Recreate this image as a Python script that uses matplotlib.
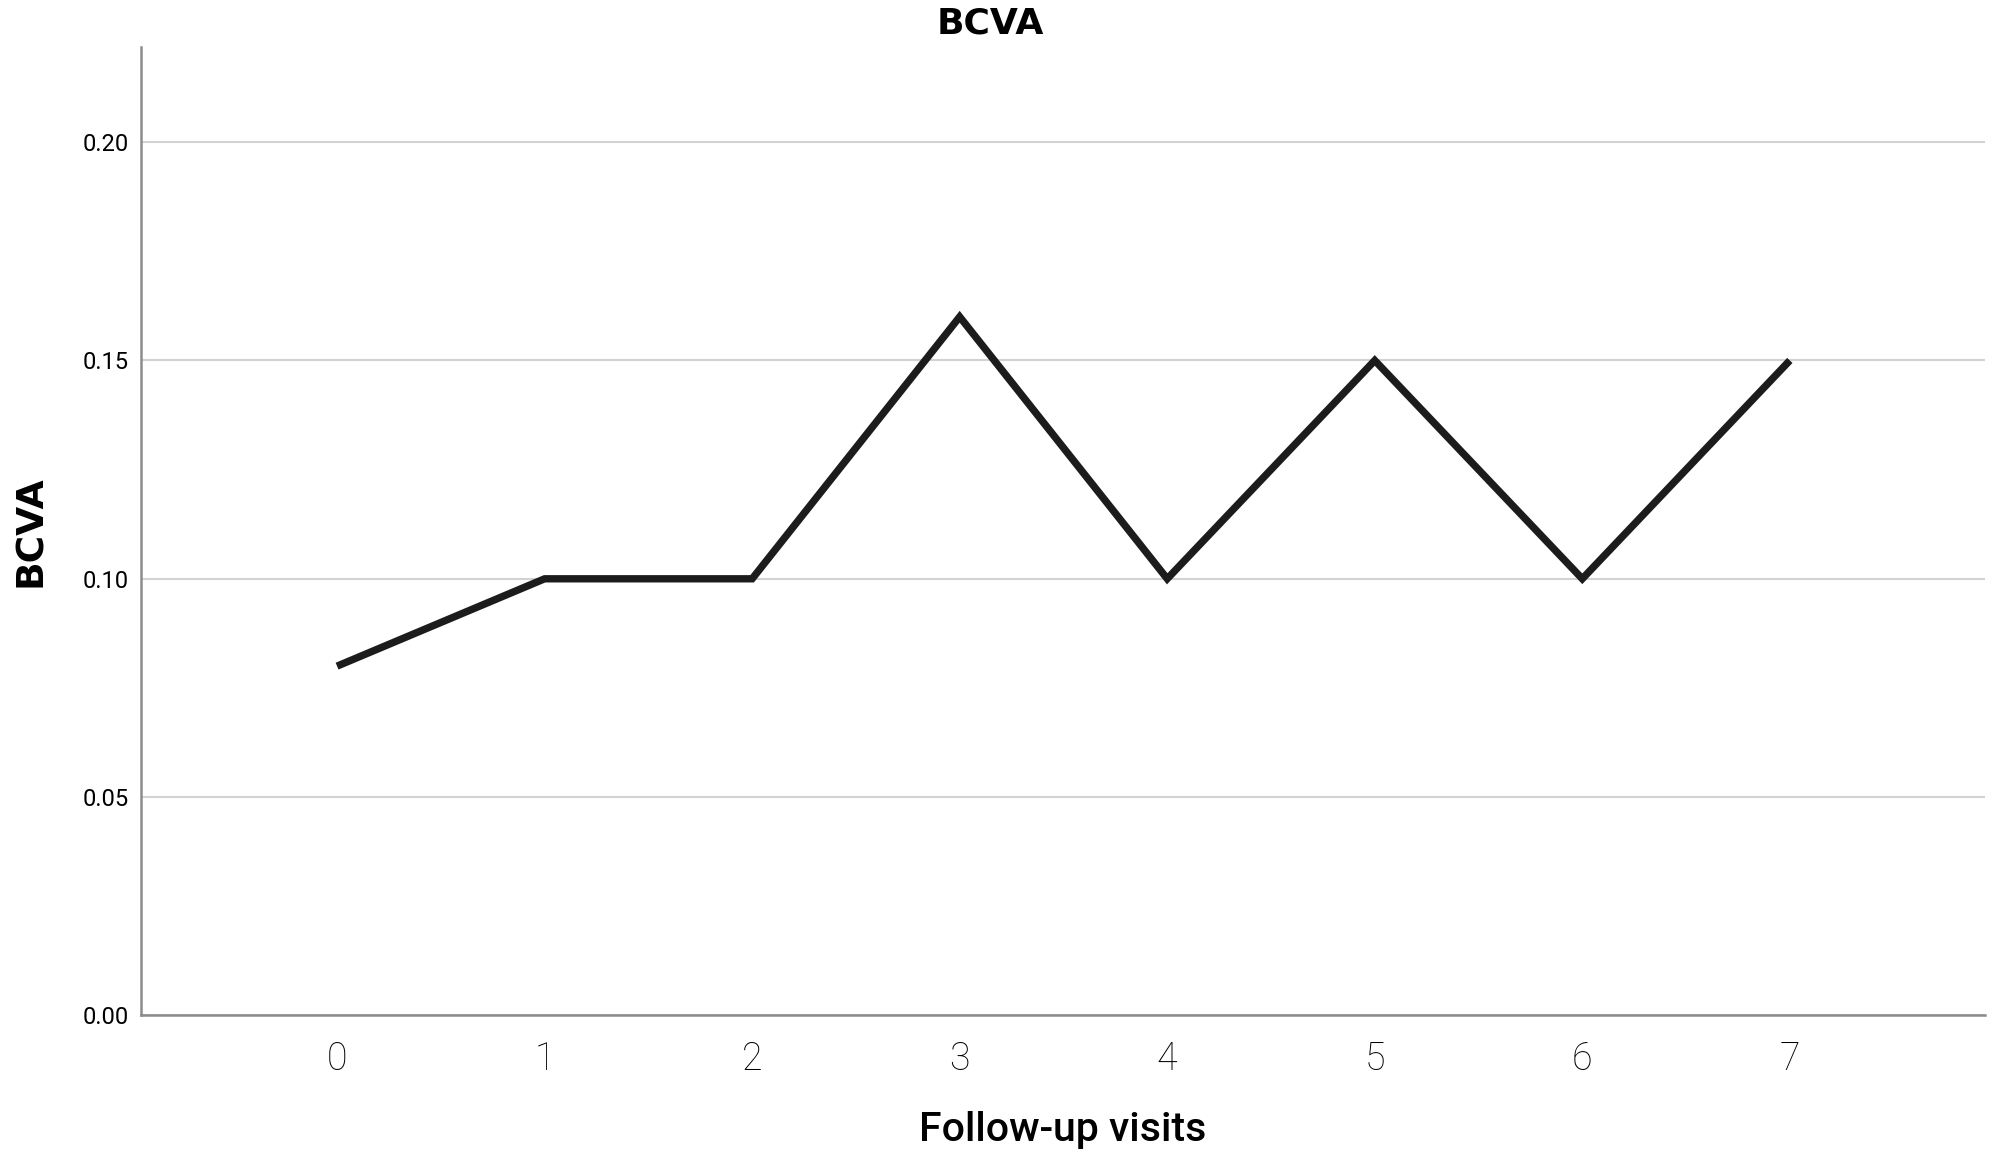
import matplotlib
matplotlib.use('Agg')
import matplotlib.pyplot as plt

# values
visits = [0, 1, 2, 3, 4, 5, 6, 7]
bcva = [0.08, 0.10, 0.10, 0.16, 0.10, 0.15, 0.10, 0.15]
y_ticks = [0.00, 0.05, 0.10, 0.15, 0.20]

GRID_COLOR = '#d2d2d2'
SPINE_COLOR = '#8c8c8c'
LINE_COLOR = '#1c1c1c'

fig = plt.figure(figsize=(20.08, 11.55), dpi=100)
ax = fig.add_axes([0.0702, 0.1208, 0.9183, 0.8382])

ax.plot(visits, bcva, color=LINE_COLOR, linewidth=5.3,
        solid_capstyle='butt', solid_joinstyle='miter', zorder=3)

ax.set_xlim(-0.945, 7.94)
ax.set_ylim(0, 0.2217)
ax.set_xticks(visits)
ax.set_xticklabels([str(v) for v in visits], fontsize=27,
                   family=['Roboto', 'DejaVu Sans'], fontweight='light',
                   color='black')
ax.set_yticks(y_ticks)
ax.set_yticklabels([f'{v:.2f}' for v in y_ticks], fontsize=17,
                   family=['Roboto', 'DejaVu Sans'])
ax.tick_params(axis='both', length=0)
ax.tick_params(axis='x', pad=18)
ax.tick_params(axis='y', pad=9)

ax.yaxis.grid(True, color=GRID_COLOR, linewidth=1.5)
ax.set_axisbelow(True)

for side in ['top', 'right']:
    ax.spines[side].set_visible(False)
for side in ['left', 'bottom']:
    ax.spines[side].set_color(SPINE_COLOR)
    ax.spines[side].set_linewidth(1.8)

ax.set_xlabel('Follow-up visits', fontsize=29.5, labelpad=24,
              family=['Roboto', 'DejaVu Sans'], fontweight='medium')
ax.set_ylabel('BCVA', fontsize=27, fontweight='bold', labelpad=24)

fig.text(0.493, 0.98, 'BCVA', ha='center', va='center',
         fontsize=26, fontweight='bold')

fig.savefig('out.png', dpi=100)
